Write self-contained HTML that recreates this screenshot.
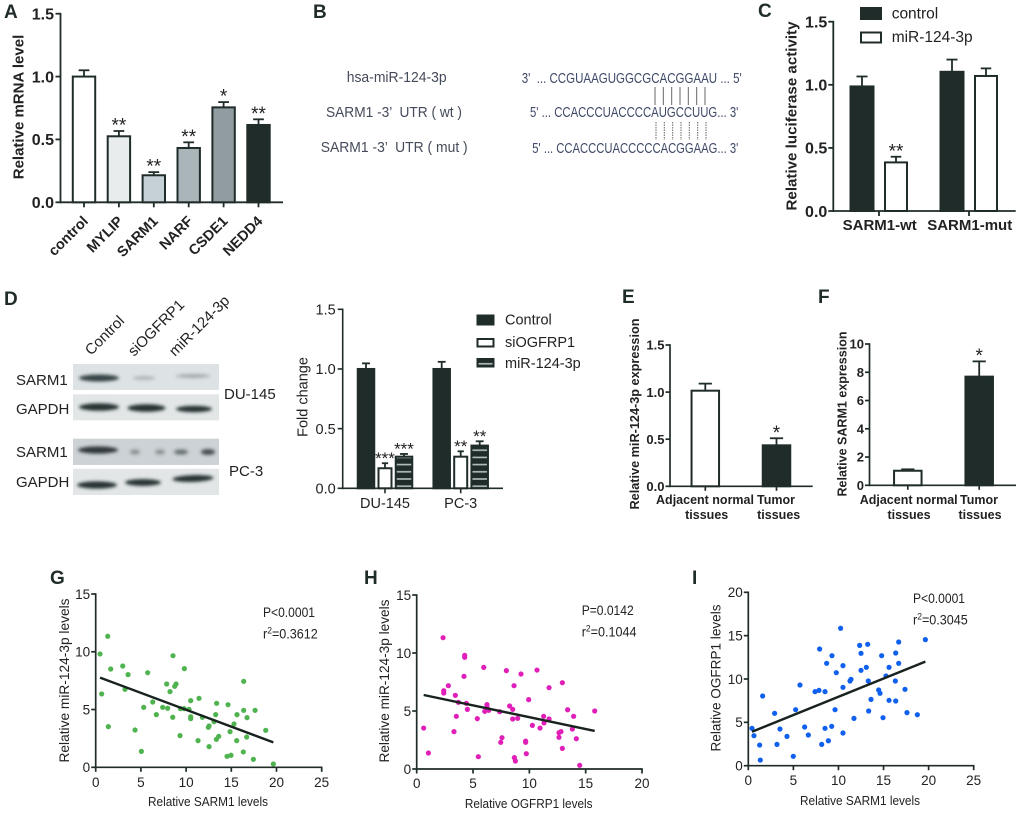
<!DOCTYPE html>
<html lang="en">
<head>
<meta charset="utf-8">
<title>SARM1 and miR-124-3p figure</title>
<style>
html,body{margin:0;padding:0;background:#fff;}
svg{display:block;font-family:"Liberation Sans",Arial,sans-serif;filter:blur(0.35px);}
.letter{font-size:19px;font-weight:700;fill:#1f2c2a;}
.bseq{font-size:14.5px;fill:#3f4a68;}
.blab{font-size:14.5px;fill:#454b5a;}
.t{fill:#222;}
</style>
</head>
<body>
<svg id="fig" width="1020" height="813" viewBox="0 0 1020 813" xmlns="http://www.w3.org/2000/svg">
<defs>
<pattern id="hatch" width="6" height="7.2" patternUnits="userSpaceOnUse">
<rect width="6" height="7.2" fill="#1f2c2a"></rect>
<rect y="3" width="6" height="1.6" fill="#b8bfbf"></rect>
</pattern>
<filter id="bl" x="-30%" y="-80%" width="160%" height="260%"><feGaussianBlur stdDeviation="1.5"></feGaussianBlur></filter>
</defs>

<text class="letter" x="4" y="18">A</text>
<text class="letter" x="313" y="18">B</text>
<text class="letter" x="758" y="17">C</text>
<text class="letter" x="4" y="305">D</text>
<text class="letter" x="622" y="303">E</text>
<text class="letter" x="818" y="303">F</text>
<text class="letter" x="50" y="584">G</text>
<text class="letter" x="364" y="584">H</text>
<text class="letter" x="692" y="584">I</text>

<!-- Panel B -->
<g>
<text class="blab" x="346.7" y="82" textLength="100" lengthAdjust="spacingAndGlyphs">hsa-miR-124-3p</text>
<text class="blab" x="326" y="117" textLength="136" lengthAdjust="spacingAndGlyphs" xml:space="preserve">SARM1 -3’  UTR ( wt )</text>
<text class="blab" x="320.7" y="152" textLength="147" lengthAdjust="spacingAndGlyphs" xml:space="preserve">SARM1 -3’  UTR ( mut )</text>
<text class="bseq" x="521.7" y="83" textLength="220" lengthAdjust="spacingAndGlyphs" xml:space="preserve">3'  ... CCGUAAGUGGCGCACGGAAU ... 5'</text>
<text class="bseq" x="530" y="117" textLength="208.3" lengthAdjust="spacingAndGlyphs">5' ... CCACCCUACCCCAUGCCUUG... 3'</text>
<text class="bseq" x="532.3" y="153" textLength="206" lengthAdjust="spacingAndGlyphs">5' ... CCACCCUACCCCCACGGAAG... 3'</text>
<g stroke="#666" stroke-width="1">
<line x1="655" y1="87" x2="655" y2="105"></line><line x1="663.3" y1="87" x2="663.3" y2="105"></line><line x1="671.7" y1="87" x2="671.7" y2="105"></line><line x1="680" y1="87" x2="680" y2="105"></line><line x1="688.3" y1="87" x2="688.3" y2="105"></line><line x1="696.7" y1="87" x2="696.7" y2="105"></line><line x1="705" y1="87" x2="705" y2="105"></line>
</g>
<g stroke="#666" stroke-width="1" stroke-dasharray="1.5 1">
<line x1="656" y1="122" x2="656" y2="140"></line><line x1="664.3" y1="122" x2="664.3" y2="140"></line><line x1="672.7" y1="122" x2="672.7" y2="140"></line><line x1="681" y1="122" x2="681" y2="140"></line><line x1="689.3" y1="122" x2="689.3" y2="140"></line><line x1="697.7" y1="122" x2="697.7" y2="140"></line><line x1="706" y1="122" x2="706" y2="140"></line>
</g>
</g>

<!-- Panel D western blot -->
<g>
<g font-size="15" fill="#222">
<text transform="translate(91,356) rotate(-45)">Control</text>
<text transform="translate(134,357) rotate(-45)">siOGFRP1</text>
<text transform="translate(175,357) rotate(-45)">miR-124-3p</text>
<text x="16" y="385">SARM1</text>
<text x="16" y="414">GAPDH</text>
<text x="16" y="457">SARM1</text>
<text x="16" y="487">GAPDH</text>
<text x="224" y="399">DU-145</text>
<text x="229" y="476">PC-3</text>
</g>
<rect x="73" y="364" width="146" height="26" fill="#dde3e5"></rect>
<rect x="73" y="394.3" width="146" height="26" fill="#e2e6e7"></rect>
<rect x="73" y="438.7" width="146" height="26.3" fill="#ccd2d5"></rect>
<rect x="73" y="468.7" width="146" height="26.3" fill="#e2e6e7"></rect>
<g fill="#263033" filter="url(#bl)">
<ellipse cx="99" cy="378" rx="20" ry="3.5" opacity=".9"></ellipse>
<ellipse cx="144" cy="378" rx="11" ry="2" opacity=".25"></ellipse>
<ellipse cx="193" cy="376" rx="17" ry="2" opacity=".3"></ellipse>
<ellipse cx="99" cy="407" rx="20" ry="3.8"></ellipse>
<ellipse cx="146.5" cy="408" rx="19" ry="3.8"></ellipse>
<ellipse cx="194" cy="409" rx="18" ry="3.2"></ellipse>
<ellipse cx="98" cy="450" rx="20" ry="3.6" opacity=".95"></ellipse>
<ellipse cx="135" cy="452" rx="5" ry="2.5" opacity=".4"></ellipse>
<ellipse cx="160" cy="452" rx="5" ry="2.5" opacity=".4"></ellipse>
<ellipse cx="181" cy="452" rx="7" ry="2.6" opacity=".6"></ellipse>
<ellipse cx="208" cy="452" rx="7" ry="3" opacity=".8"></ellipse>
<ellipse cx="97" cy="485" rx="20" ry="3.6"></ellipse>
<ellipse cx="143" cy="482.5" rx="18" ry="3.4"></ellipse>
<ellipse cx="193" cy="478.5" rx="20.5" ry="3.4" transform="rotate(-2 193 478.5)"></ellipse>
</g>
</g>

<g id="charts"></g>
</svg>

<script>
// Panel A
const aCategories = ['control', 'MYLIP', 'SARM1', 'NARF', 'CSDE1', 'NEDD4'];
const aValues = [1.0, 0.525, 0.215, 0.432, 0.755, 0.615];
const aErrors = [1.05, 0.567, 0.24, 0.477, 0.797, 0.66];
const aStars = ['', '**', '**', '**', '*', '**'];
const aTicks = [0, 0.5, 1.0, 1.5];

// Panel C
const cGroups = ['SARM1-wt', 'SARM1-mut'];
const cSeries = ['control', 'miR-124-3p'];
const cControl = [0.987, 1.103];
const cControlErr = [1.066, 1.2];
const cMir = [0.385, 1.07];
const cMirErr = [0.43, 1.13];
const cStars = ['**', ''];
const cTicks = [0, 0.5, 1.0, 1.5];

// Panel D chart
const dGroups = ['DU-145', 'PC-3'];
const dSeries = ['Control', 'siOGFRP1', 'miR-124-3p'];
const dControl = [1.0, 1.0];
const dControlErr = [1.047, 1.06];
const dSi = [0.168, 0.265];
const dSiErr = [0.21, 0.31];
const dMir = [0.265, 0.358];
const dMirErr = [0.288, 0.394];
const dSiStars = ['***', '**'];
const dMirStars = ['***', '**'];
const dTicks = [0, 0.5, 1.0, 1.5];

// Panel E
const eValues = [1.015, 0.435];
const eErrors = [1.09, 0.51];
const eStars = ['', '*'];
const eTicks = [0, 0.5, 1.0, 1.5];

// Panel F
const fValues = [1.03, 7.69];
const fErrors = [1.13, 8.77];
const fStars = ['', '*'];
const fTicks = [0, 2, 4, 6, 8, 10];

const tissueLine1 = ['Adjacent normal', 'Tumor'];
const tissueLine2 = ['tissues', 'tissues'];

// Panel G scatter
const gX = [0.48,1.33,1.66,0.66,1.40,2.99,3.58,3.24,4.35,5.05,5.31,5.75,6.31,6.71,7.41,7.85,7.96,8.22,8.52,8.55,8.74,8.89,9.37,9.33,9.81,9.77,10.32,10.51,10.51,10.51,11.43,11.32,11.80,12.46,12.54,12.54,13.09,13.27,13.38,13.35,13.61,14.53,14.64,14.86,14.97,15.30,15.60,15.63,16.33,16.37,16.37,16.70,16.74,17.44,17.63,18.81,19.65];
const gY = [9.81,11.34,8.51,6.35,3.52,8.77,8.02,6.75,3.23,1.38,5.19,8.19,5.65,4.56,5.19,7.21,5.11,6.55,4.33,9.66,7.01,7.21,5.08,2.74,8.54,5.08,5.02,5.77,4.38,4.21,5.97,2.31,4.33,3.46,3.58,1.79,3.95,4.56,5.54,2.42,2.68,0.95,5.42,3.09,1.04,3.75,2.31,4.56,1.33,4.93,7.44,2.62,4.30,0.69,4.93,3.20,0.29];
const gFitX = [0.48, 19.65];
const gFitY = [7.76, 2.16];
const gXTicks = [0, 5, 10, 15, 20, 25];
const gYTicks = [0, 5, 10, 15];

// Panel H scatter
const hX = [0.62,1.04,2.34,2.40,2.40,2.81,3.43,3.52,3.31,3.70,4.20,4.26,4.26,4.41,4.50,5.38,5.47,5.95,6.04,6.24,6.24,6.39,7.37,7.46,7.57,7.96,8.25,8.52,8.52,8.64,8.67,8.76,8.96,9.26,9.67,9.67,9.73,9.94,10.27,10.68,10.95,11.27,11.30,11.75,11.75,12.63,12.63,12.81,12.93,12.93,13.40,13.82,13.93,14.17,14.47,15.80];
const hY = [3.53,1.38,11.32,6.75,6.55,7.18,6.35,4.54,3.22,5.75,7.99,9.80,9.63,5.66,5.14,4.34,1.06,8.76,4.97,5.55,5.32,5.06,4.94,2.30,2.70,8.48,5.43,5.14,4.31,7.18,0.98,0.69,4.37,8.19,2.41,2.30,1.32,5.98,3.76,8.53,3.53,4.54,3.97,7.01,4.31,3.13,2.73,3.22,7.44,1.78,5.11,3.45,4.54,2.61,0.32,5.00];
const hFitX = [0.62, 15.80];
const hFitY = [6.38, 3.28];
const hXTicks = [0, 5, 10, 15, 20];
const hYTicks = [0, 5, 10, 15];

// Panel I scatter
const iX = [0.41,0.63,1.26,1.33,1.59,2.92,3.18,3.51,4.29,4.99,5.25,5.73,6.25,6.66,7.40,7.84,7.91,8.14,8.51,8.51,8.69,8.88,9.25,9.28,9.62,9.76,10.24,10.50,10.50,10.50,11.28,11.39,11.72,12.35,12.50,12.50,13.09,13.24,13.31,13.35,13.61,14.46,14.61,14.79,14.94,15.27,15.61,15.61,16.31,16.35,16.35,16.68,16.68,17.38,17.60,18.75,19.64];
const iY = [4.31,3.46,2.38,0.65,8.04,6.04,2.46,4.23,3.38,1.08,6.46,9.31,4.46,3.54,8.54,8.69,13.46,2.46,4.31,8.54,11.81,2.88,4.54,12.69,6.46,10.73,15.85,3.77,9.04,11.54,9.77,9.96,5.46,13.88,11.00,12.96,11.35,14.00,9.77,6.31,7.65,8.73,8.35,12.69,5.54,10.35,7.54,11.35,9.77,13.00,7.46,14.27,11.81,8.81,6.12,5.88,14.54];
const iFitX = [0.41, 19.64];
const iFitY = [3.92, 12.0];
const iXTicks = [0, 5, 10, 15, 20, 25];
const iYTicks = [0, 5, 10, 15, 20];

const DARK = '#1f2c2a';
const NS = 'http://www.w3.org/2000/svg';
const root = document.getElementById('charts');

function mk(parent, tag, attrs, text) {
  const el = document.createElementNS(NS, tag);
  for (const k in attrs) el.setAttribute(k, attrs[k]);
  if (text !== undefined) el.textContent = text;
  parent.appendChild(el);
  return el;
}
function linear(d0, d1, r0, r1) {
  return function (v) { return r0 + (v - d0) * (r1 - r0) / (d1 - d0); };
}
function panel(name) {
  const g = mk(root, 'g', {});
  
  
  return g;
}
function fmt1(v) { return v.toFixed(1); }
function fmt0(v) { return String(v); }

function yAxis(g, y, axisX, ticks, format, o) {
  const vals = ticks.slice().sort(function (a, b) { return a - b; });
  const axis = mk(g, 'line', { x1: axisX, x2: axisX, y1: y(vals[vals.length - 1]) - 0.8, y2: y(vals[0]) + 0.8, stroke: DARK, 'stroke-width': o.sw });
  
  
  vals.forEach(function (v) {
    const tick = mk(g, 'line', { x1: axisX - o.tick, x2: axisX, y1: y(v), y2: y(v), stroke: DARK, 'stroke-width': o.sw });
    
    
    const lab = mk(g, 'text', { x: axisX - o.gap, y: y(v) + o.size * 0.36, 'text-anchor': 'end', 'font-size': o.size, 'font-weight': o.weight, class: 't' }, format(v));
    
    
  });
}
function xAxisLine(g, x0, x1, y0, sw) {
  const axis = mk(g, 'line', { x1: x0, x2: x1, y1: y0, y2: y0, stroke: DARK, 'stroke-width': sw });
  
  
}
function xTick(g, x, y0, len, sw) {
  const tick = mk(g, 'line', { x1: x, x2: x, y1: y0, y2: y0 + len, stroke: DARK, 'stroke-width': sw });
  
  
}
function bar(g, cx, w, y, val, err, fill, star, starSize) {
  const errTop = y(err), top = y(val), base = y(0);
  const v = mk(g, 'line', { x1: cx, x2: cx, y1: errTop, y2: top, stroke: DARK, 'stroke-width': 1.8 });
  
  
  const cap = mk(g, 'line', { x1: cx - w * 0.24, x2: cx + w * 0.24, y1: errTop, y2: errTop, stroke: DARK, 'stroke-width': 1.8 });
  
  
  const r = mk(g, 'rect', { x: cx - w / 2, y: top, width: w, height: base - top, fill: fill, stroke: DARK, 'stroke-width': 2 });
  
  
  if (star) {
    const s = mk(g, 'text', { x: cx, y: errTop + 0.03 * starSize, 'text-anchor': 'middle', 'font-size': starSize, class: 't' }, star);
    
    
  }
}
function rotTitle(g, text, x, y, size, weight, len) {
  const attrs = { transform: 'translate(' + x + ',' + y + ') rotate(-90)', 'text-anchor': 'middle', 'font-size': size, 'font-weight': weight, class: 't' };
  if (len) { attrs.textLength = len; attrs.lengthAdjust = 'spacingAndGlyphs'; }
  const t = mk(g, 'text', attrs, text);
  
  
}
function label(g, text, x, y, size, weight, anchor) {
  const t = mk(g, 'text', { x: x, y: y, 'text-anchor': anchor || 'middle', 'font-size': size, 'font-weight': weight || 400, class: 't' }, text);
  
  
}
function legendSwatch(g, x, y, w, h, fill) {
  const s = mk(g, 'rect', { x: x, y: y, width: w, height: h, fill: fill, stroke: DARK, 'stroke-width': 2 });
  
  
}
function legendText(g, text, x, y, size) {
  const t = mk(g, 'text', { x: x, y: y, 'font-size': size, class: 't' }, text);
  
  
}

/* Panel A */
(function () {
  const g = panel('panel-a-mrna-bar-chart');
  const y = linear(0, 1.5, 202.3, 13.7);
  const x = linear(0, 5, 84, 258.5);
  const fills = ['#ffffff', '#e8ecec', '#c6d1d7', '#aab5ba', '#909ca0', DARK];
  yAxis(g, y, 60.5, aTicks, fmt1, { sw: 1.8, tick: 5, gap: 6.5, size: 16, weight: 700 });
  xAxisLine(g, 59.6, 283, y(0), 1.8);
  rotTitle(g, 'Relative mRNA level', 23.5, 107, 15, 700);
  aCategories.forEach(function (c, i) {
    bar(g, x(i), 22.4, y, aValues[i], aErrors[i], fills[i], aStars[i], 19);
    xTick(g, x(i), y(0), 5, 1.8);
    const t = mk(g, 'text', { transform: 'translate(' + (x(i) + 5) + ',222) rotate(-45)', 'text-anchor': 'end', 'font-size': 14.5, 'font-weight': 700, class: 't' }, c);
    
    
  });
})();

/* Panel C */
(function () {
  const g = panel('panel-c-luciferase-bar-chart');
  const y = linear(0, 1.5, 211, 21.7);
  const x = linear(0, 1, 879, 969);
  yAxis(g, y, 833.3, cTicks, fmt1, { sw: 1.8, tick: 5, gap: 6, size: 16, weight: 700 });
  xAxisLine(g, 832.4, 1015.7, y(0), 1.8);
  rotTitle(g, 'Relative luciferase activity', 796.5, 116, 15, 700, 189);
  cGroups.forEach(function (c, i) {
    bar(g, x(i) - 17, 23, y, cControl[i], cControlErr[i], DARK, '', 19);
    bar(g, x(i) + 17, 22, y, cMir[i], cMirErr[i], '#fff', cStars[i], 19);
    xTick(g, x(i), y(0), 5, 1.8);
    label(g, c, x(i) + 0.7, 230, 15, 700);
  });
  legendSwatch(g, 861, 8, 20, 11, DARK);
  legendSwatch(g, 861, 32.5, 20, 10, '#fff');
  legendText(g, cSeries[0], 891.7, 18.5, 15.5);
  legendText(g, cSeries[1], 891.7, 42, 15.5);
})();

/* Panel D chart */
(function () {
  const g = panel('panel-d-fold-change-bar-chart');
  const y = linear(0, 1.5, 488.3, 309.3);
  const x = linear(0, 1, 385, 460.7);
  yAxis(g, y, 342.7, dTicks, fmt1, { sw: 1.6, tick: 5, gap: 7, size: 14.5, weight: 400 });
  xAxisLine(g, 342, 503, y(0), 1.6);
  rotTitle(g, 'Fold change', 307.7, 397, 14.5, 400);
  dGroups.forEach(function (c, i) {
    bar(g, x(i) - 19, 16.5, y, dControl[i], dControlErr[i], DARK, '', 17);
    bar(g, x(i), 13, y, dSi[i], dSiErr[i], '#fff', dSiStars[i], 17);
    bar(g, x(i) + 19, 16.5, y, dMir[i], dMirErr[i], 'url(#hatch)', dMirStars[i], 17);
    xTick(g, x(i), y(0), 5, 1.6);
    label(g, c, x(i), 508, 14.5, 400);
  });
  legendSwatch(g, 477.5, 315.5, 16, 9, DARK);
  legendSwatch(g, 477.5, 339, 16, 7.5, '#fff');
  legendSwatch(g, 477.5, 359, 16, 7.5, 'url(#hatch)');
  legendText(g, dSeries[0], 505, 324.5, 14.5);
  legendText(g, dSeries[1], 505, 347, 14.5);
  legendText(g, dSeries[2], 505, 368, 14.5);
})();

/* Panel E */
(function () {
  const g = panel('panel-e-mirna-expression-bar-chart');
  const y = linear(0, 1.5, 486.3, 345);
  const x = linear(0, 1, 705.3, 776.5);
  yAxis(g, y, 670, eTicks, fmt1, { sw: 1.7, tick: 4.5, gap: 5.5, size: 13, weight: 700 });
  xAxisLine(g, 669.2, 812.7, y(0), 1.7);
  rotTitle(g, 'Relative miR-124-3p expression', 639, 414, 12.5, 700, 191);
  const fills = ['#fff', DARK];
  eValues.forEach(function (v, i) {
    bar(g, x(i), 27.5, y, v, eErrors[i], fills[i], eStars[i], 19);
    xTick(g, x(i), y(0), 4.5, 1.7);
  });
  label(g, tissueLine1[0], 705, 504, 12.5, 700);
  label(g, tissueLine2[0], 706.7, 519, 12.5, 700);
  label(g, tissueLine1[1], 776, 504, 12.5, 700);
  label(g, tissueLine2[1], 778.7, 519, 12.5, 700);
})();

/* Panel F */
(function () {
  const g = panel('panel-f-sarm1-expression-bar-chart');
  const y = linear(0, 10, 485.3, 344);
  const x = linear(0, 1, 907.8, 979.2);
  yAxis(g, y, 869.5, fTicks, fmt0, { sw: 1.7, tick: 4.5, gap: 5.5, size: 13, weight: 700 });
  xAxisLine(g, 868.7, 1016, y(0), 1.7);
  rotTitle(g, 'Relative SARM1 expression', 846.7, 414, 12.5, 700, 165);
  const fills = ['#fff', DARK];
  fValues.forEach(function (v, i) {
    bar(g, x(i), 27.5, y, v, fErrors[i], fills[i], fStars[i], 19);
    xTick(g, x(i), y(0), 4.5, 1.7);
  });
  label(g, tissueLine1[0], 908.7, 504, 12.5, 700);
  label(g, tissueLine2[0], 909, 519, 12.5, 700);
  label(g, tissueLine1[1], 979, 504, 12.5, 700);
  label(g, tissueLine2[1], 980, 519, 12.5, 700);
})();

/* Scatter panels */
function scatter(g, o, xs, ys, fx, fy, xt, yt) {
  const x = linear(0, xt[xt.length - 1], o.x0, o.x1);
  const y = linear(0, yt[yt.length - 1], o.y0, o.y1);
  yAxis(g, y, o.x0, yt, fmt0, { sw: 1.7, tick: 4.5, gap: 5.5, size: 13.5, weight: 400 });
  xAxisLine(g, o.x0 - 0.8, o.x1 + 0.8, o.y0, 1.7);
  xt.forEach(function (v) {
    xTick(g, x(v), o.y0, 4.5, 1.7);
    label(g, fmt0(v), x(v), o.xLabelY, 13.5, 400);
  });
  xs.forEach(function (v, i) {
    const c = mk(g, 'circle', { cx: x(v), cy: y(ys[i]), r: 2.6, fill: o.color });
    
    
  });
  const fit = mk(g, 'line', { x1: x(fx[0]), y1: y(fy[0]), x2: x(fx[1]), y2: y(fy[1]), stroke: '#18221f', 'stroke-width': 2.4 });
  
  
  const title = mk(g, 'text', { x: o.titleX, y: o.titleY, 'text-anchor': 'middle', 'font-size': 12.5, class: 't', textLength: o.titleLen, lengthAdjust: 'spacingAndGlyphs' }, o.xTitle);
  
  
  rotTitle(g, o.yTitle, o.yTitleX, o.yTitleY, 13.5, 400, o.yTitleLen);
  const p = mk(g, 'text', { x: o.statX, y: o.statY, 'font-size': 14, class: 't', textLength: 52, lengthAdjust: 'spacingAndGlyphs' }, o.p);
  
  
  const r = mk(g, 'text', { transform: 'translate(' + o.statX + ',' + (o.statY + 21.5) + ') scale(0.9,1)', 'font-size': 14, class: 't' });
  
  
  mk(r, 'tspan', {}, 'r');
  mk(r, 'tspan', { dy: -5, 'font-size': 9.5 }, '2');
  mk(r, 'tspan', { dy: 5 }, '=' + o.r2);
}

scatter(panel('panel-g-scatter-plot'), {
  x0: 95.7, x1: 321.7, y0: 767.3, y1: 594, xLabelY: 787, color: '#4fb34f',
  xTitle: 'Relative SARM1 levels', titleX: 208, titleY: 806, titleLen: 120,
  yTitle: 'Relative miR-124-3p levels', yTitleX: 69, yTitleY: 680.5, yTitleLen: 164,
  statX: 263, statY: 617, p: 'P<0.0001', r2: '0.3612'
}, gX, gY, gFitX, gFitY, gXTicks, gYTicks);

scatter(panel('panel-h-scatter-plot'), {
  x0: 416.7, x1: 642, y0: 769, y1: 595, xLabelY: 788, color: '#e01fb8',
  xTitle: 'Relative OGFRP1 levels', titleX: 528.7, titleY: 808, titleLen: 127.7,
  yTitle: 'Relative miR-124-3p levels', yTitleX: 389, yTitleY: 681, yTitleLen: 163,
  statX: 581.7, statY: 615, p: 'P=0.0142', r2: '0.1044'
}, hX, hY, hFitX, hFitY, hXTicks, hYTicks);

scatter(panel('panel-i-scatter-plot'), {
  x0: 748.3, x1: 973.7, y0: 765.7, y1: 592.3, xLabelY: 785, color: '#1060ee',
  xTitle: 'Relative SARM1 levels', titleX: 860, titleY: 805, titleLen: 120,
  yTitle: 'Relative OGFRP1 levels', yTitleX: 720.7, yTitleY: 678, yTitleLen: 147,
  statX: 913, statY: 603, p: 'P<0.0001', r2: '0.3045'
}, iX, iY, iFitX, iFitY, iXTicks, iYTicks);
</script>
</body>
</html>
